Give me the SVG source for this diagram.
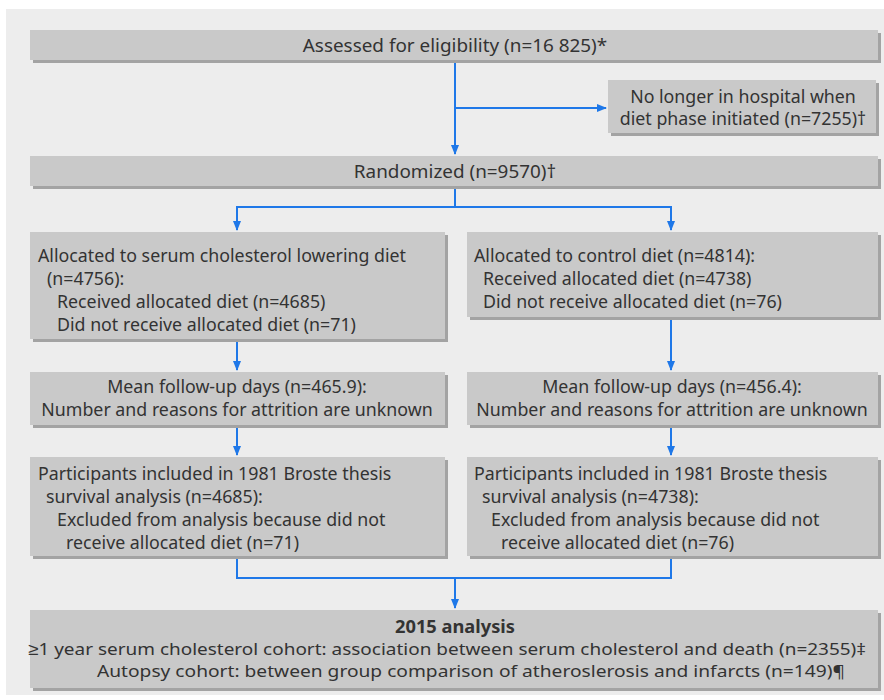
<svg xmlns="http://www.w3.org/2000/svg" width="884" height="700" viewBox="0 0 884 700">
<defs>
<style>
.box{fill:#c9c9c9;}
.sh{fill:#a3a3a3;}
.t{font-family:"Noto Sans","Liberation Sans",sans-serif;font-size:17.8px;fill:#333333;}
.w{font-size:18.9px;}
.s{font-size:17px;}
.c{text-anchor:middle;}
.b{font-weight:bold;}
.ln{fill:none;stroke:#1f78e8;stroke-width:2;}
</style>
<marker id="ah" markerWidth="10" markerHeight="10" refX="9" refY="5" orient="auto" markerUnits="userSpaceOnUse">
<path d="M0,1 L10,5 L0,9 Z" fill="#1f78e8"/>
</marker>
</defs>
<rect x="0" y="0" width="884" height="700" fill="#ffffff"/>
<rect x="6" y="9" width="878" height="686" fill="#ededed"/>

<g id="connectors">
<path class="ln" d="M455,61 V154" marker-end="url(#ah)"/>
<path class="ln" d="M455,108 H606" marker-end="url(#ah)"/>
<path class="ln" d="M455,188 V207 H237 V230" marker-end="url(#ah)"/>
<path class="ln" d="M455,207 H671 V230" marker-end="url(#ah)"/>
<path class="ln" d="M237,341 V370" marker-end="url(#ah)"/>
<path class="ln" d="M671,319 V370" marker-end="url(#ah)"/>
<path class="ln" d="M237,427 V455" marker-end="url(#ah)"/>
<path class="ln" d="M671,427 V455" marker-end="url(#ah)"/>
<path class="ln" d="M237,558 V578 H671 V558"/>
<path class="ln" d="M455,578 V608" marker-end="url(#ah)"/>
</g>

<g id="assessed">
<rect class="sh" x="33" y="33" width="848" height="30"/>
<rect class="box" x="30" y="30" width="848" height="30"/>
<text class="t w c" x="455" y="52">Assessed for eligibility (n=16 825)*</text>
</g>

<g id="excluded">
<rect class="sh" x="611" y="83" width="268" height="53"/>
<rect class="box" x="608" y="80" width="268" height="53"/>
<text class="t c" x="743" y="103">No longer in hospital when</text>
<text class="t c" x="743" y="125">diet phase initiated (n=7255)†</text>
</g>

<g id="randomized">
<rect class="sh" x="33" y="159" width="848" height="30"/>
<rect class="box" x="30" y="156" width="848" height="30"/>
<text class="t w c" x="455" y="178">Randomized (n=9570)†</text>
</g>

<g id="alloc-left">
<rect class="sh" x="33" y="235" width="415" height="107"/>
<rect class="box" x="30" y="232" width="415" height="107"/>
<text class="t" x="38" y="262">Allocated to serum cholesterol lowering diet</text>
<text class="t" x="47" y="285">(n=4756):</text>
<text class="t" x="57" y="308">Received allocated diet (n=4685)</text>
<text class="t" x="57" y="331">Did not receive allocated diet (n=71)</text>
</g>

<g id="alloc-right">
<rect class="sh" x="470" y="235" width="411" height="85"/>
<rect class="box" x="467" y="232" width="411" height="85"/>
<text class="t" x="474" y="262">Allocated to control diet (n=4814):</text>
<text class="t" x="483" y="285">Received allocated diet (n=4738)</text>
<text class="t" x="483" y="308">Did not receive allocated diet (n=76)</text>
</g>

<g id="follow-left">
<rect class="sh" x="33" y="375" width="415" height="53"/>
<rect class="box" x="30" y="372" width="415" height="53"/>
<text class="t c" x="237" y="393">Mean follow-up days (n=465.9):</text>
<text class="t c" x="237" y="416">Number and reasons for attrition are unknown</text>
</g>

<g id="follow-right">
<rect class="sh" x="470" y="375" width="411" height="53"/>
<rect class="box" x="467" y="372" width="411" height="53"/>
<text class="t c" x="672" y="393">Mean follow-up days (n=456.4):</text>
<text class="t c" x="672" y="416">Number and reasons for attrition are unknown</text>
</g>

<g id="analysis-left">
<rect class="sh" x="33" y="460" width="415" height="99"/>
<rect class="box" x="30" y="457" width="415" height="99"/>
<text class="t" x="38" y="480">Participants included in 1981 Broste thesis</text>
<text class="t" x="46" y="503">survival analysis (n=4685):</text>
<text class="t" x="57" y="526">Excluded from analysis because did not</text>
<text class="t" x="66" y="549">receive allocated diet (n=71)</text>
</g>

<g id="analysis-right">
<rect class="sh" x="470" y="460" width="411" height="99"/>
<rect class="box" x="467" y="457" width="411" height="99"/>
<text class="t" x="474" y="480">Participants included in 1981 Broste thesis</text>
<text class="t" x="482" y="503">survival analysis (n=4738):</text>
<text class="t" x="491" y="526">Excluded from analysis because did not</text>
<text class="t" x="501" y="549">receive allocated diet (n=76)</text>
</g>

<g id="analysis-2015">
<rect class="sh" x="33" y="613" width="848" height="78"/>
<rect class="box" x="30" y="610" width="848" height="78"/>
<text class="t s c b" x="455" y="633" textLength="120" lengthAdjust="spacingAndGlyphs">2015 analysis</text>
<text class="t s c" x="447" y="655" textLength="838" lengthAdjust="spacingAndGlyphs">≥1 year serum cholesterol cohort: association between serum cholesterol and death (n=2355)‡</text>
<text class="t s c" x="471" y="677" textLength="748" lengthAdjust="spacingAndGlyphs">Autopsy cohort: between group comparison of atheroslerosis and infarcts (n=149)¶</text>
</g>
</svg>
